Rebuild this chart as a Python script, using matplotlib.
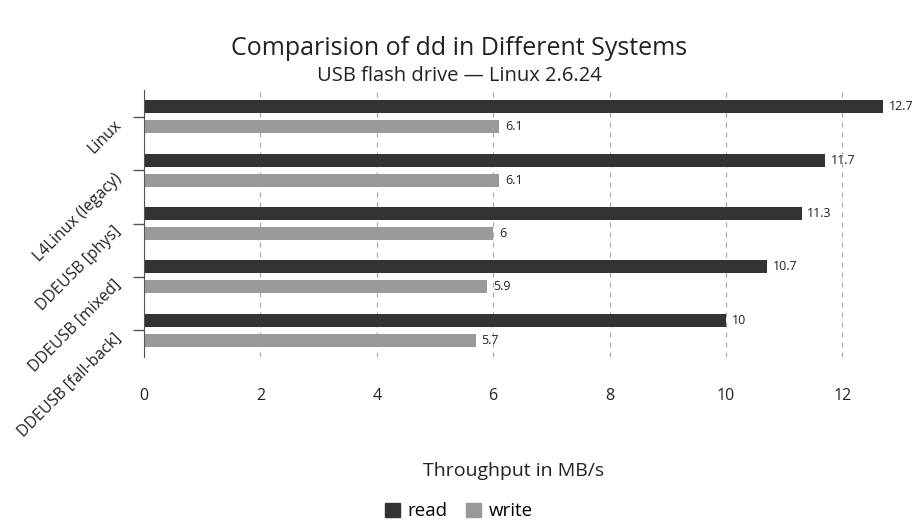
import numpy as np
import matplotlib
matplotlib.use("Agg")
import matplotlib.pyplot as plt
from matplotlib.patches import Patch

plt.rcParams["font.family"] = ["Open Sans", "DejaVu Sans"]

systems = ["Linux", "L4Linux (legacy)", "DDEUSB [phys]", "DDEUSB [mixed]", "DDEUSB [fall-back]"]
read = [12.7, 11.7, 11.3, 10.7, 10.0]
write = [6.1, 6.1, 6.0, 5.9, 5.7]
READ_C, WRITE_C, TXT_C = "#333333", "#999999", "#222222"

fig = plt.figure(figsize=(9.18, 5.27), dpi=100)
ax = fig.add_axes([0.1569, 0.3226, 0.805, 0.5066])

y = np.arange(len(systems))
h = 0.245
off = 0.187
rb = ax.barh(y - off, read, height=h, color=READ_C)
wb = ax.barh(y + off, write, height=h, color=WRITE_C)

for bars, vals in ((rb, read), (wb, write)):
    for b, v in zip(bars, vals):
        ax.text(v + 0.1, b.get_y() + b.get_height() / 2, f"{v:g}",
                va="center", ha="left", fontsize=9, color=TXT_C)

ax.set_ylim(len(systems) - 0.5, -0.5)
ax.set_xlim(0, 12.7)
ax.set_yticks(y)
ax.set_yticklabels(systems, rotation=45, ha="right", va="top",
                   rotation_mode="anchor", fontsize=11.5, color=TXT_C)
ax.set_xticks(np.arange(0, 13, 2))
ax.tick_params(axis="x", length=0, pad=22, labelsize=11.5, labelcolor=TXT_C)
ax.tick_params(axis="y", length=8, color="#555555", width=1, pad=14)
ax.grid(axis="x", linestyle=(0, (4, 4)), color="#aaaaaa", lw=0.9)
ax.set_axisbelow(True)
for s in ("top", "right", "bottom"):
    ax.spines[s].set_visible(False)
ax.spines["left"].set_color("#555555")

ax.set_xlabel("Throughput in MB/s", fontsize=14, color=TXT_C, labelpad=42)
fig.text(0.5, 0.908, "Comparision of dd in Different Systems", ha="center", va="center",
         fontsize=18, color=TXT_C)
fig.text(0.5, 0.856, "USB flash drive \u2014 Linux 2.6.24", ha="center", va="center",
         fontsize=14.5, color=TXT_C)

handles = [Patch(color=READ_C, label="read"), Patch(color=WRITE_C, label="write")]
fig.legend(handles=handles, loc="center", bbox_to_anchor=(0.5, 0.03), ncol=2,
           frameon=False, fontsize=13.5, handlelength=0.8, handleheight=0.8,
           handletextpad=0.4, columnspacing=1.0)

fig.savefig("out.png", dpi=100)
